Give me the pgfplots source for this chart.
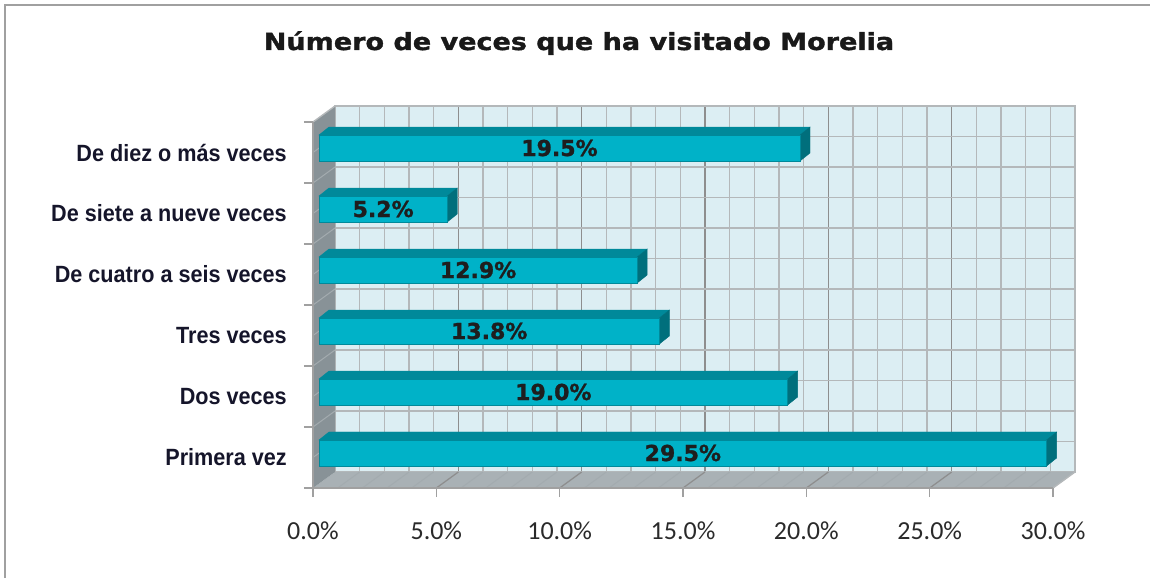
\documentclass[border=0pt]{standalone}
\usepackage{pgfplots}
\pgfplotsset{compat=1.18}
\usepackage{pgfplotstable}
\usepackage{fontspec}
\setmainfont{Carlito}
\newfontfamily\catfont[FakeStretch=0.92]{Liberation Sans}
\newfontfamily\heavyfont[FakeBold=1.2]{DejaVu Sans}
\newfontfamily\titlefont[FakeStretch=1.15,FakeBold=1.5]{DejaVu Sans}
\definecolor{wallc}{HTML}{DCEEF3}
\definecolor{gridc}{HTML}{B4B8BA}
\definecolor{gridd}{HTML}{8E8E8E}
\definecolor{lwall}{HTML}{889297}
\definecolor{floorc}{HTML}{A9B1B5}
\definecolor{wline}{HTML}{A3ABAF}
\definecolor{axg}{HTML}{A0A0A0}
\definecolor{barf}{HTML}{00B2C8}
\definecolor{bart}{HTML}{00899A}
\definecolor{barr}{HTML}{006F7C}
\definecolor{labc}{HTML}{1E1E1E}
\definecolor{catc}{HTML}{15152A}
\definecolor{tickc}{HTML}{2A2A2A}
\pgfplotstableread{
val cat
29.5 0
19.0 1
13.8 2
12.9 3
5.2 4
19.5 5
}\bardata
\begin{document}
\begin{tikzpicture}
% back wall, floor and side wall
\begin{axis}[
  at={(335pt,106pt)}, anchor=south west,
  width=740pt, height=366pt, scale only axis,
  xmin=0, xmax=30, ymin=-0.5, ymax=5.5,
  xtick={5,10,...,25},
  minor xtick={1,2,3,4,6,7,8,9,11,12,13,14,16,17,18,19,21,22,23,24,26,27,28,29},
  ytick={0,0.5,...,5},
  xticklabels=\empty, yticklabels=\empty,
  major tick length=0pt, minor tick length=0pt,
  grid=both,
  major x grid style={draw=gridd, line width=1.6pt},
  major y grid style={draw=gridc, line width=1.6pt},
  minor grid style={draw=gridc, line width=1.6pt},
  axis line style={draw=gridc, line width=1.6pt},
  axis background/.style={fill=wallc},
  clip=false,
]
\fill[floorc] (axis cs:0,-0.5) -- (axis cs:30,-0.5) -- ++(-22pt,-16pt) -- ([shift={(-22pt,-16pt)}]axis cs:0,-0.5) -- cycle;
\pgfplotsinvokeforeach{1,...,29}{\draw[wline, line width=1pt] (axis cs:#1,-0.5) -- ++(-22pt,-16pt);}
\pgfplotsinvokeforeach{5,10,...,25}{\draw[gridd, line width=1.2pt] (axis cs:#1,-0.5) -- ++(-22pt,-16pt);}
\fill[lwall] (axis cs:0,-0.5) -- (axis cs:0,5.5) -- ++(-22pt,-16pt) -- ([shift={(-22pt,-16pt)}]axis cs:0,-0.5) -- cycle;
\pgfplotsinvokeforeach{0,0.5,...,5}{\draw[wline, line width=1pt] (axis cs:0,#1) -- ++(-22pt,-16pt);}
\draw[gridc, line width=1.4pt] (axis cs:0,5.5) -- ++(-22pt,-16pt);
\draw[gridc, line width=1.4pt] (axis cs:30,-0.5) -- ++(-22pt,-16pt);
\end{axis}
% front plane with bars
\begin{axis}[
  at={(313pt,90pt)}, anchor=south west,
  width=740pt, height=366pt, scale only axis,
  xmin=0, xmax=30, ymin=-0.5, ymax=5.5,
  axis x line*=bottom, axis y line*=left,
  axis line style={draw=axg, line width=1.5pt, -},
  tick align=outside, major tick length=9pt,
  tick style={draw=axg, line width=1.5pt},
  xtick={0,5,...,30},
  xticklabels={0.0\%,5.0\%,10.0\%,15.0\%,20.0\%,25.0\%,30.0\%},
  ytick={-0.5,0.5,...,5.5},
  y tick label as interval,
  yticklabels={Primera vez,Dos veces,Tres veces,De cuatro a seis veces,De siete a nueve veces,De diez o más veces},
  xticklabel style={font=\fontsize{26}{30}\selectfont, text=tickc, inner sep=0pt, anchor=north, yshift=-25pt},
  yticklabel style={font=\catfont\bfseries\fontsize{23.5}{28}\selectfont, text=catc, inner sep=0pt, anchor=east, xshift=-17pt},
  clip=false,
]
\addplot[scatter, only marks, mark=text, text mark={}, point meta=x,
  visualization depends on={rawx \as \bv},
  scatter/@pre marker code/.code={%
    \pgfmathsetmacro\L{\bv*24.6666667}%
    \pgfmathsetmacro\xa{6-\L}%
    \pgfmathsetmacro\xb{16-\L}%
    \pgfmathsetmacro\xc{6-\L/2}%
    \fill[bart] (\xa pt,17.5pt) -- (\xb pt,25.5pt) -- (16pt,25.5pt) -- (6pt,17.5pt) -- cycle;
    \fill[barr] (6pt,-8.5pt) -- (16pt,-0.5pt) -- (16pt,25.5pt) -- (6pt,17.5pt) -- cycle;
    \filldraw[fill=barf, draw=bart, line width=0.8pt] (\xa pt,-8.5pt) rectangle (6pt,17.5pt);
    \node[font=\heavyfont\bfseries\fontsize{22}{26}\selectfont, text=labc] at (\xc pt,4.5pt) {\pgfmathprintnumber[fixed,fixed zerofill,precision=1,assume math mode=true]{\bv}\%};
    \scope
  },
  scatter/@post marker code/.code={\endscope},
] table[x=val, y=cat] {\bardata};
\end{axis}
\node[font=\titlefont\bfseries\fontsize{23.5}{28}\selectfont, anchor=base, text=black!90] at (579pt,528pt) {Número de veces que ha visitado Morelia};
\draw[axg, line width=2pt] (5pt,0pt) -- (5pt,573pt) -- (1150pt,573pt);
\pgfresetboundingbox
\useasboundingbox (0,0) rectangle (1150pt,578pt);
\end{tikzpicture}
\end{document}
